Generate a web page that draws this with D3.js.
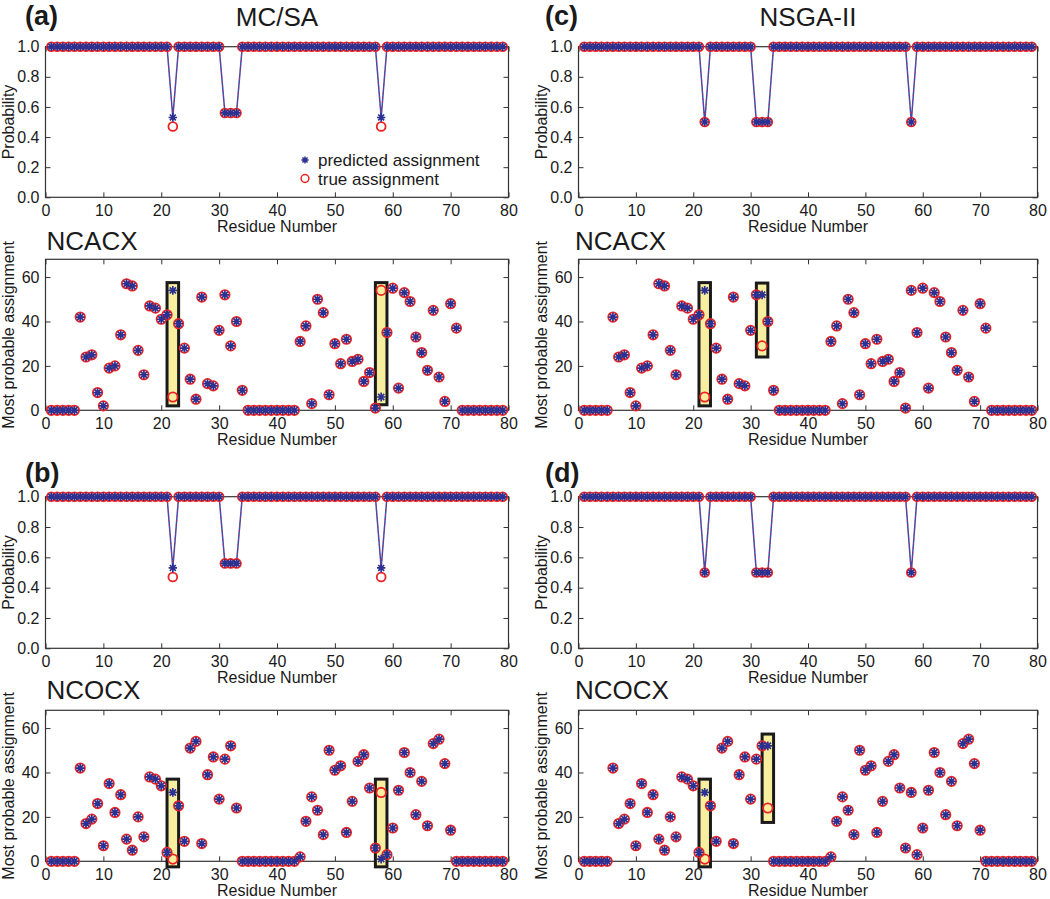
<!DOCTYPE html>
<html><head><meta charset="utf-8">
<script src="https://cdn.jsdelivr.net/npm/d3@7/dist/d3.min.js"></script>
<style>
body{margin:0;background:#fff}
text{font-family:"Liberation Sans",Arial,Helvetica,sans-serif;fill:#1a1a1a}
</style>
</head><body>
<svg id="chart" width="1050" height="899"></svg>
<script>
// ---------------- DATA ----------------
const residues = [1,2,3,4,5,6,7,8,9,10,11,12,13,14,15,16,17,18,19,20,21,22,23,24,25,26,27,28,29,30,31,32,33,34,35,36,37,38,39,40,41,42,43,44,45,46,47,48,49,50,51,52,53,54,55,56,57,58,59,60,61,62,63,64,65,66,67,68,69,70,71,72,73,74,75,76,77,78,79];
const xTicks = [0,10,20,30,40,50,60,70,80];
const probTicks = [0,0.2,0.4,0.6,0.8,1.0];
const assignTicks = [0,20,40,60];

const probPredMCSA = [1,1,1,1,1,1,1,1,1,1, 1,1,1,1,1,1,1,1,1,1, 1,0.53,1,1,1,1,1,1,1,1, 0.56,0.56,0.56,1,1,1,1,1,1,1, 1,1,1,1,1,1,1,1,1,1, 1,1,1,1,1,1,1,0.53,1,1, 1,1,1,1,1,1,1,1,1,1, 1,1,1,1,1,1,1,1,1];
const probTrueMCSA = [1,1,1,1,1,1,1,1,1,1, 1,1,1,1,1,1,1,1,1,1, 1,0.47,1,1,1,1,1,1,1,1, 0.56,0.56,0.56,1,1,1,1,1,1,1, 1,1,1,1,1,1,1,1,1,1, 1,1,1,1,1,1,1,0.47,1,1, 1,1,1,1,1,1,1,1,1,1, 1,1,1,1,1,1,1,1,1];
const probPredNSGA = [1,1,1,1,1,1,1,1,1,1, 1,1,1,1,1,1,1,1,1,1, 1,0.5,1,1,1,1,1,1,1,1, 0.5,0.5,0.5,1,1,1,1,1,1,1, 1,1,1,1,1,1,1,1,1,1, 1,1,1,1,1,1,1,0.5,1,1, 1,1,1,1,1,1,1,1,1,1, 1,1,1,1,1,1,1,1,1];
const probTrueNSGA = [1,1,1,1,1,1,1,1,1,1, 1,1,1,1,1,1,1,1,1,1, 1,0.5,1,1,1,1,1,1,1,1, 0.5,0.5,0.5,1,1,1,1,1,1,1, 1,1,1,1,1,1,1,1,1,1, 1,1,1,1,1,1,1,0.5,1,1, 1,1,1,1,1,1,1,1,1,1, 1,1,1,1,1,1,1,1,1];

const ncacxTrue = [0,0,0,0,0,42,24,25,8,2, 19,20,34,57,56,27,16,47,46,41, 43,6,39,28,14,5,51,12,11,36, 52,29,40,9,0,0,0,0,0,0, 0,0,0,31,38,3,50,44,7,30, 21,32,22,23,13,17,1,54,35,55, 10,53,49,33,26,18,45,15,4,48, 37,0,0,0,0,0,0,0,0];
const ncacxPredMCSA = [0,0,0,0,0,42,24,25,8,2, 19,20,34,57,56,27,16,47,46,41, 43,54,39,28,14,5,51,12,11,36, 52,29,40,9,0,0,0,0,0,0, 0,0,0,31,38,3,50,44,7,30, 21,32,22,23,13,17,1,6,35,55, 10,53,49,33,26,18,45,15,4,48, 37,0,0,0,0,0,0,0,0];
const ncacxPredNSGA = [0,0,0,0,0,42,24,25,8,2, 19,20,34,57,56,27,16,47,46,41, 43,54,39,28,14,5,51,12,11,36, 52,52,40,9,0,0,0,0,0,0, 0,0,0,31,38,3,50,44,7,30, 21,32,22,23,13,17,1,54,35,55, 10,53,49,33,26,18,45,15,4,48, 37,0,0,0,0,0,0,0,0];

const ncocxTrue = [0,0,0,0,0,42,17,19,26,7, 35,22,30,10,5,20,11,38,37,34, 4,1,25,9,51,54,8,39,47,28, 46,52,24,0,0,0,0,0,0,0, 0,0,0,2,18,29,23,12,50,41, 43,13,27,45,48,33,6,31,3,15, 32,49,40,21,36,16,53,55,44,14, 0,0,0,0,0,0,0,0,0];
const ncocxPredMCSA = [0,0,0,0,0,42,17,19,26,7, 35,22,30,10,5,20,11,38,37,34, 4,31,25,9,51,54,8,39,47,28, 46,52,24,0,0,0,0,0,0,0, 0,0,0,2,18,29,23,12,50,41, 43,13,27,45,48,33,6,1,3,15, 32,49,40,21,36,16,53,55,44,14, 0,0,0,0,0,0,0,0,0];
const ncocxPredNSGA = [0,0,0,0,0,42,17,19,26,7, 35,22,30,10,5,20,11,38,37,34, 4,31,25,9,51,54,8,39,47,28, 46,52,52,0,0,0,0,0,0,0, 0,0,0,2,18,29,23,12,50,41, 43,13,27,45,48,33,6,31,3,15, 32,49,40,21,36,16,53,55,44,14, 0,0,0,0,0,0,0,0,0];

// highlighted residues: [residue, low, high] in data units
const boxNcacxMCSA = [[22, 2, 57.5], [58, 2.5, 57.5]];
const boxNcacxNSGA = [[22, 2, 57.5], [32, 24, 57.3]];
const boxNcocxMCSA = [[22, -2.5, 37], [58, -2.5, 37]];
const boxNcocxNSGA = [[22, -2.5, 37], [33, 17.5, 57.3]];

// ---------------- DRAWING ----------------
const svg = d3.select("#chart");
const BLUE = "#2b3190", RED = "#ee2222", LINEBLUE = "#3b4cb4";
const FONT = '"Liberation Sans",Arial,Helvetica,sans-serif';

function starPath(r){
  const a = r*Math.SQRT1_2;
  return `M${-r},0L${r},0M0,${-r}L0,${r}M${-a},${-a}L${a},${a}M${-a},${a}L${a},${-a}`;
}

function panel(o){
  const g = svg.append("g");
  const x = d3.scaleLinear().domain([0,80]).range([o.left,o.right]);
  const y = d3.scaleLinear().domain(o.yDomain).range([o.bottom,o.top]);

  const ax = [
    g.append("g").attr("transform",`translate(0,${o.bottom})`)
      .call(d3.axisBottom(x).tickValues(xTicks).tickSize(-5).tickSizeOuter(0).tickPadding(7).tickFormat(d3.format("d"))),
    g.append("g").attr("transform",`translate(0,${o.top})`)
      .call(d3.axisTop(x).tickValues(xTicks).tickSize(-5).tickSizeOuter(0).tickFormat("")),
    g.append("g").attr("transform",`translate(${o.left},0)`)
      .call(d3.axisLeft(y).tickValues(o.yTicks).tickSize(-5).tickSizeOuter(0).tickPadding(6).tickFormat(o.yFmt)),
    g.append("g").attr("transform",`translate(${o.right},0)`)
      .call(d3.axisRight(y).tickValues(o.yTicks).tickSize(-5).tickSizeOuter(0).tickFormat(""))
  ];
  ax.forEach(a=>{
    a.select(".domain").remove();
    a.attr("font-size",16).attr("font-family",FONT);
    a.selectAll(".tick line").attr("stroke","#333").attr("stroke-width",1);
    a.selectAll(".tick text").attr("fill","#1a1a1a");
  });
  g.append("rect").attr("x",o.left).attr("y",o.top)
    .attr("width",o.right-o.left).attr("height",o.bottom-o.top)
    .attr("fill","none").attr("stroke","#333").attr("stroke-width",1.2);

  g.append("text").attr("x",(o.left+o.right)/2).attr("y",o.bottom+35)
    .attr("text-anchor","middle").attr("font-size",16).text("Residue Number");
  g.append("text").attr("transform",`translate(${o.left-32},${(o.top+o.bottom)/2}) rotate(-90)`)
    .attr("text-anchor","middle").attr("font-size",16).text(o.ylabel);

  const pts = residues.map((r,i)=>({r, p:o.pred[i], t:o.tru[i]}));

  if(o.line){
    const line = d3.line().x(d=>x(d.r)).y(d=>y(d.p));
    g.append("path").datum(pts).attr("d",line).attr("fill","none")
      .attr("stroke",LINEBLUE).attr("stroke-width",1.5);
    g.append("path").datum(pts).attr("d",line).attr("fill","none")
      .attr("stroke",RED).attr("stroke-width",0.9).attr("stroke-dasharray","1.5,3").attr("opacity",0.8);
  }

  if(o.boxes){
    g.selectAll("rect.hl").data(o.boxes).join("rect").attr("class","hl")
      .attr("x",d=>x(d[0]-1)).attr("width",d=>x(d[0]+1)-x(d[0]-1))
      .attr("y",d=>y(d[2])).attr("height",d=>y(d[1])-y(d[2]))
      .attr("fill","#f8eea0").attr("stroke","#1a1a1a").attr("stroke-width",3);
  }

  g.selectAll("circle.tru").data(pts).join("circle").attr("class","tru")
    .attr("cx",d=>x(d.r)).attr("cy",d=>y(d.t)).attr("r",o.cr)
    .attr("fill","none").attr("stroke",RED).attr("stroke-width",1.8);
  g.selectAll("path.pred").data(pts).join("path").attr("class","pred")
    .attr("transform",d=>`translate(${x(d.r)},${y(d.p)})`)
    .attr("d",starPath(o.sr)).attr("stroke",BLUE).attr("stroke-width",1.7).attr("fill","none");
  return {g,x,y};
}

const cols = [{left:45.5,right:508.5},{left:578.5,right:1037.5}];
const rows = {p1:[46.7,197.3], s1:[259.3,410.3], p2:[496.7,648.3], s2:[710.3,861.3]};
const probFmt = d3.format(".1f"), intFmt = d3.format("d");

function probPanel(c,row,pred,tru){
  return panel({left:c.left,right:c.right,top:row[0],bottom:row[1],yDomain:[0,1],yTicks:probTicks,
    yFmt:probFmt,pred,tru,line:true,ylabel:"Probability",cr:4.4,sr:4.2});
}
function assignPanel(c,row,pred,tru,boxes){
  return panel({left:c.left,right:c.right,top:row[0],bottom:row[1],yDomain:[0,68],yTicks:assignTicks,
    yFmt:intFmt,pred,tru,line:false,boxes,ylabel:"Most probable assignment",cr:4.7,sr:4.4});
}

probPanel(cols[0],rows.p1,probPredMCSA,probTrueMCSA);
assignPanel(cols[0],rows.s1,ncacxPredMCSA,ncacxTrue,boxNcacxMCSA);
probPanel(cols[0],rows.p2,probPredMCSA,probTrueMCSA);
assignPanel(cols[0],rows.s2,ncocxPredMCSA,ncocxTrue,boxNcocxMCSA);
probPanel(cols[1],rows.p1,probPredNSGA,probTrueNSGA);
assignPanel(cols[1],rows.s1,ncacxPredNSGA,ncacxTrue,boxNcacxNSGA);
probPanel(cols[1],rows.p2,probPredNSGA,probTrueNSGA);
assignPanel(cols[1],rows.s2,ncocxPredNSGA,ncocxTrue,boxNcocxNSGA);

// legend in panel (a)
const lg = svg.append("g");
lg.append("path").attr("transform","translate(305,160)").attr("d",starPath(3.6))
  .attr("stroke",BLUE).attr("stroke-width",1.5).attr("fill","none");
lg.append("text").attr("x",318).attr("y",166).attr("font-size",17).text("predicted assignment");
lg.append("circle").attr("cx",305).attr("cy",178.5).attr("r",3.9)
  .attr("fill","none").attr("stroke",RED).attr("stroke-width",1.5);
lg.append("text").attr("x",318).attr("y",184.5).attr("font-size",17).text("true assignment");

// panel letters, titles, experiment labels
const heads = [
  {t:"(a)",x:25,y:25,bold:true,size:27,anchor:"start"},
  {t:"(b)",x:25,y:482,bold:true,size:27,anchor:"start"},
  {t:"(c)",x:545,y:25,bold:true,size:27,anchor:"start"},
  {t:"(d)",x:545,y:482,bold:true,size:27,anchor:"start"},
  {t:"MC/SA",x:277,y:26,bold:false,size:26,anchor:"middle"},
  {t:"NSGA-II",x:808,y:26,bold:false,size:26,anchor:"middle"},
  {t:"NCACX",x:46.5,y:250,bold:false,size:26,anchor:"start"},
  {t:"NCACX",x:575,y:250,bold:false,size:26,anchor:"start"},
  {t:"NCOCX",x:46.5,y:698.5,bold:false,size:26,anchor:"start"},
  {t:"NCOCX",x:575,y:698.5,bold:false,size:26,anchor:"start"}
];
svg.selectAll("text.head").data(heads).join("text").attr("class","head")
  .attr("x",d=>d.x).attr("y",d=>d.y).attr("text-anchor",d=>d.anchor)
  .attr("font-size",d=>d.size).attr("font-weight",d=>d.bold?"bold":"normal").text(d=>d.t);
</script>
</body></html>
